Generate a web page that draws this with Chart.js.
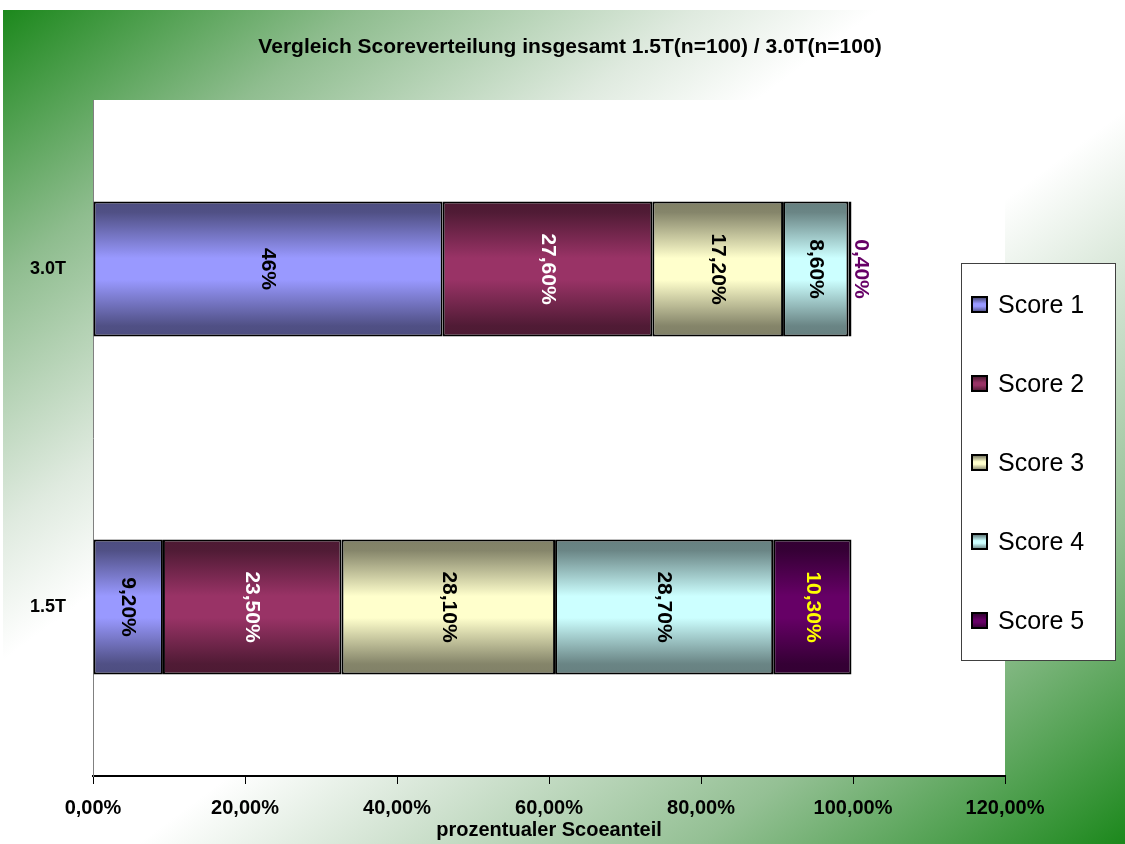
<!DOCTYPE html>
<html>
<head>
<meta charset="utf-8">
<script src="https://cdn.jsdelivr.net/npm/chart.js@4/dist/chart.umd.min.js"></script>
<style>
html, body { margin: 0; padding: 0; background: #fff; }
#wrap { position: relative; width: 1125px; height: 844px; overflow: hidden; }
#bg {
    position: absolute; left: 3px; top: 10px; right: 0; bottom: 0;
    background: linear-gradient(to bottom right, #1c881c 0%, #8fbd8f 16%, #dfeadf 31%, #ffffff 39%, #ffffff 56%, #d5e5d5 66%, #94c094 81%, #1c881c 100%);
}
canvas { position: absolute; left: 0; top: 0; }
</style>
</head>
<body>
<div id="wrap">
    <div id="bg"></div>
    <canvas id="myChart" width="1125" height="844"></canvas>
</div>
<script>
// chart data
const categories = ['3.0T', '1.5T'];
const seriesNames = ['Score 1', 'Score 2', 'Score 3', 'Score 4', 'Score 5'];
const score1 = [46, 9.2];
const score2 = [27.6, 23.5];
const score3 = [17.2, 28.1];
const score4 = [8.6, 28.7];
const score5 = [0.4, 10.3];
const xTicks = [0, 20, 40, 60, 80, 100, 120];

const seriesColors = ['#9999FF', '#993366', '#FFFFCC', '#CCFFFF', '#660066'];
const labelColors = ['#000000', '#FFFFFF', '#000000', '#000000', '#FFFF00'];
const FONT = '"Liberation Sans", Arial, sans-serif';

// axis text always with two decimals: 20,00%
function pct2(v) {
    return v.toFixed(2).replace('.', ',') + '%';
}
// bar labels: whole numbers without decimals (46%), else 27,60%
function pct(v) {
    return Number.isInteger(v) ? v + '%' : pct2(v);
}

function shade(hex, f) {
    const n = parseInt(hex.slice(1), 16);
    const r = Math.round(((n >> 16) & 255) * f);
    const g = Math.round(((n >> 8) & 255) * f);
    const b = Math.round((n & 255) * f);
    return 'rgb(' + r + ',' + g + ',' + b + ')';
}

// vertical "tube" gradient like the office chart
function tube(ctx, col, y0, y1) {
    const g = ctx.createLinearGradient(0, y0, 0, y1);
    g.addColorStop(0, shade(col, 0.5));
    g.addColorStop(0.08, shade(col, 0.52));
    g.addColorStop(0.42, col);
    g.addColorStop(0.58, col);
    g.addColorStop(0.92, shade(col, 0.52));
    g.addColorStop(1, shade(col, 0.5));
    return g;
}

function barFill(i) {
    return function(c) {
        const chart = c.chart;
        const area = chart.chartArea;
        if (!area || c.type !== 'data' || !chart.scales.y) return seriesColors[i];
        const cy = chart.scales.y.getPixelForValue(c.dataIndex);
        const h = (area.bottom - area.top) / categories.length * 0.4;
        return tube(chart.ctx, seriesColors[i], cy - h / 2, cy + h / 2);
    };
}

const seriesValues = [score1, score2, score3, score4, score5];
const datasets = seriesValues.map((vals, i) => ({
    label: seriesNames[i],
    data: vals,
    backgroundColor: barFill(i),
    borderColor: '#000000',
    borderWidth: 2,
    borderSkipped: false,
    categoryPercentage: 1,
    barPercentage: 0.4
}));

// white plot area + title
const framePlugin = {
    id: 'frame',
    beforeDraw(chart) {
        const { ctx, chartArea: a } = chart;
        ctx.save();
        ctx.fillStyle = '#ffffff';
        ctx.fillRect(a.left, a.top, a.right - a.left, a.bottom - a.top);
        ctx.fillStyle = '#000000';
        ctx.font = 'bold 21px ' + FONT;
        ctx.textAlign = 'center';
        ctx.textBaseline = 'middle';
        ctx.fillText('Vergleich Scoreverteilung insgesamt 1.5T(n=100) / 3.0T(n=100)', 570, 47);
        ctx.restore();
    }
};

// rotated value labels
const labelPlugin = {
    id: 'valueLabels',
    afterDatasetsDraw(chart) {
        const ctx = chart.ctx;
        ctx.save();
        ctx.font = 'bold 21px ' + FONT;
        ctx.textAlign = 'center';
        ctx.textBaseline = 'middle';
        chart.data.datasets.forEach((ds, i) => {
            const meta = chart.getDatasetMeta(i);
            meta.data.forEach((el, j) => {
                const w = Math.abs(el.x - el.base);
                let x = (el.x + el.base) / 2;
                let color = labelColors[i];
                if (w < 20) { // too thin, put it behind the bar
                    x = el.x + 9;
                    color = seriesColors[i];
                }
                ctx.save();
                ctx.translate(x, el.y);
                ctx.rotate(Math.PI / 2);
                ctx.fillStyle = color;
                ctx.fillText(pct(ds.data[j]), 0, 0);
                ctx.restore();
            });
        });
        ctx.restore();
    }
};

// boxed legend on the right
const legendPlugin = {
    id: 'boxLegend',
    afterDraw(chart) {
        const ctx = chart.ctx;
        ctx.save();
        ctx.fillStyle = '#ffffff';
        ctx.fillRect(961, 263, 154, 397);
        ctx.strokeStyle = '#404040';
        ctx.lineWidth = 1;
        ctx.strokeRect(961.5, 263.5, 154, 397);
        ctx.font = '25px ' + FONT;
        ctx.textAlign = 'left';
        ctx.textBaseline = 'middle';
        chart.data.datasets.forEach((ds, i) => {
            const cy = 305 + i * 79;
            ctx.fillStyle = tube(ctx, seriesColors[i], cy - 8, cy + 8);
            ctx.fillRect(972, cy - 8, 15, 15);
            ctx.strokeStyle = '#000000';
            ctx.lineWidth = 2;
            ctx.strokeRect(972, cy - 8, 15, 15);
            ctx.fillStyle = '#000000';
            ctx.fillText(ds.label, 998, cy + 1);
        });
        ctx.restore();
    }
};

const myChart = new Chart(document.getElementById('myChart').getContext('2d'), {
    type: 'bar',
    data: { labels: categories, datasets: datasets },
    options: {
        indexAxis: 'y',
        responsive: false,
        animation: false,
        devicePixelRatio: 1,
        layout: { padding: { top: 100, right: 120, left: 0, bottom: 0 } },
        plugins: {
            legend: { display: false },
            title: { display: false },
            tooltip: { enabled: false }
        },
        scales: {
            x: {
                stacked: true,
                min: xTicks[0],
                max: xTicks[xTicks.length - 1],
                afterBuildTicks: (s) => { s.ticks = xTicks.map(v => ({ value: v })); },
                afterFit: (s) => { s.height = 68; },
                ticks: {
                    callback: (v) => pct2(v),
                    color: '#000000',
                    font: { family: FONT, size: 20, weight: 'bold' },
                    padding: 12,
                    maxRotation: 0
                },
                grid: { drawOnChartArea: false, tickLength: 8, tickColor: '#000000', tickWidth: 1 },
                border: { display: true, color: '#000000', width: 2 },
                title: {
                    display: true,
                    text: 'prozentualer Scoeanteil',
                    color: '#000000',
                    font: { family: FONT, size: 20, weight: 'bold' },
                    padding: { top: 0, bottom: 2 }
                }
            },
            y: {
                stacked: true,
                afterFit: (s) => { s.width = 93; },
                ticks: {
                    color: '#000000',
                    font: { family: FONT, size: 18, weight: 'bold' },
                    padding: 27
                },
                grid: { display: false, drawTicks: false },
                border: { display: true, color: '#808080', width: 1 }
            }
        }
    },
    plugins: [framePlugin, labelPlugin, legendPlugin]
});
</script>
</body>
</html>
